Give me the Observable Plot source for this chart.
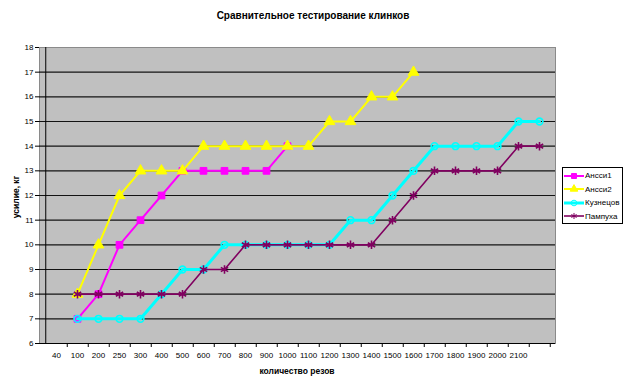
<!DOCTYPE html>
<html><head><meta charset="utf-8">
<script src="https://cdn.jsdelivr.net/npm/d3@7"></script>
<script src="https://cdn.jsdelivr.net/npm/@observablehq/plot@0.6"></script>
<style>
body{margin:0;background:#fff;font-family:"Liberation Sans",Arial,sans-serif;}
#wrap{position:relative;width:626px;height:385px;overflow:hidden;}
#chart{position:absolute;left:0;top:0;}
#title{position:absolute;top:10px;left:0;width:626px;text-align:center;font-weight:bold;font-size:10px;color:#000;}
#xlabel{position:absolute;top:366px;left:197px;width:200px;text-align:center;font-weight:bold;font-size:8.5px;}
#ylabel{position:absolute;left:16px;top:197px;transform:translate(-50%,-50%) rotate(-90deg);font-weight:bold;font-size:8.5px;white-space:nowrap;}
#legend{position:absolute;left:562px;top:167px;width:61px;height:57px;border:1px solid #000;background:#fff;box-sizing:border-box;font-size:8px;padding-top:1px;}
.li{display:flex;align-items:center;height:13.5px;}
.li svg{margin-left:1px;margin-right:1px;}
</style></head>
<body><div id="wrap"><div id="chart"></div>
<div id="title">Сравнительное тестирование клинков</div>
<div id="xlabel">количество резов</div>
<div id="ylabel">усилие, кг</div>
<div id="legend"></div></div>
<script>
const categories = ["40","100","200","250","300","400","500","600","700","800","900","1000","1100","1200","1300","1400","1500","1600","1700","1800","1900","2000","2100",""];
const seriesNames = ["Ансси1","Ансси2","Кузнецов","Пампуха"];
const anssi1 = [null,7,8,10,11,12,13,13,13,13,13,14];
const anssi2 = [null,8,10,12,13,13,13,14,14,14,14,14,14,15,15,16,16,17];
const kuznetsov = [null,7,7,7,7,8,9,9,10,10,10,10,10,10,11,11,12,13,14,14,14,14,15,15];
const pampukha = [null,8,8,8,8,8,8,9,9,10,10,10,10,10,10,10,11,12,13,13,13,13,14,14];
const yTicks = [6,7,8,9,10,11,12,13,14,15,16,17,18];

const values = [anssi1, anssi2, kuznetsov, pampukha];
const styles = [
  {color:"#ff00ff", width:2, symbol:"square", r:3.8, fill:true},
  {color:"#ffff00", width:2, symbol:"triangle", r:4, fill:true},
  {color:"#00ffff", width:3, symbol:"circle", r:3.4, fill:false},
  {color:"#800060", width:1.6, symbol:"asterisk", r:4, fill:false}
];
const W = 626, H = 385, ML = 39, MR = 71, MT = 47, MB = 42;
const step = (W - ML - MR) / categories.length;

const seriesRows = values.map((arr, i) => arr.map((v, j) => ({cat: categories[j], v, s: seriesNames[i]})).filter(d => d.v != null));

const marks = [
  Plot.frame({fill:"#c0c0c0", stroke:"#8a8a8a"}),
  Plot.gridY(yTicks.filter(t => t > 6 && t < 18), {stroke:"#000", strokeOpacity:0.9, strokeWidth:1.2}),
  Plot.ruleY([yTicks[0]], {stroke:"#000"}),
  Plot.ruleX([categories[0]], {dx:-step/2, stroke:"#000", y1: yTicks[0], y2: yTicks[yTicks.length-1]}),
  Plot.axisY(yTicks, {tickSize:4, tickPadding:2, label:null, fontSize:8, stroke:"#000"}),
  Plot.axisX(categories, {tickSize:0, tickPadding:9, label:null, fontSize:8}),
  Plot.axisX(categories, {tickSize:4, dx:step/2, tickFormat:() => "", label:null})
];
seriesRows.forEach((rows, i) => {
  const st = styles[i];
  marks.push(Plot.line(rows, {x:"cat", y:"v", stroke:st.color, strokeWidth:st.width}));
  marks.push(Plot.dot(rows, {x:"cat", y:"v", symbol:() => st.symbol, r:st.r,
    fill: st.fill ? st.color : "none", stroke: st.color, strokeWidth: st.fill ? 1 : 1.6}));
});

const chart = Plot.plot({
  width: W, height: H, marginLeft: ML, marginRight: MR, marginTop: MT, marginBottom: MB,
  style: {fontFamily: "'Liberation Sans', Arial, sans-serif", fontSize: "8px", background: "transparent", color:"#000"},
  x: {type: "point", domain: categories, padding: 0.5},
  y: {domain: [6, 18]},
  symbol: {type: "identity"},
  marks
});
document.getElementById("chart").appendChild(chart);

const legend = document.getElementById("legend");
seriesNames.forEach((name, i) => {
  const st = styles[i];
  const row = document.createElement("div");
  row.className = "li";
  const svg = d3.create("svg").attr("width", 20).attr("height", 10);
  svg.append("line").attr("x1", 0).attr("x2", 20).attr("y1", 5).attr("y2", 5).attr("stroke", st.color).attr("stroke-width", st.width);
  svg.append("path").attr("transform", "translate(10,5)")
    .attr("d", d3.symbol(st.symbol === "square" ? d3.symbolSquare : st.symbol === "triangle" ? d3.symbolTriangle : st.symbol === "circle" ? d3.symbolCircle : d3.symbolAsterisk, 25)())
    .attr("fill", st.fill ? st.color : "none").attr("stroke", st.color);
  row.appendChild(svg.node());
  const t = document.createElement("span");
  t.textContent = name;
  row.appendChild(t);
  legend.appendChild(row);
});
</script>
</body></html>
